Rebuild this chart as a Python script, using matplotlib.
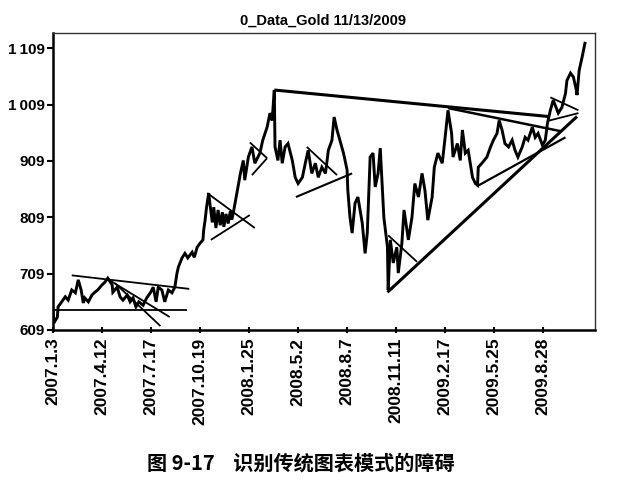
import matplotlib
matplotlib.use("Agg")
import matplotlib.pyplot as plt

# ---- data (trading-day index, price) ----
day_idx = [0, 1, 6, 7, 12, 17, 21, 26, 31, 35, 39, 42, 44, 49, 54, 58, 62, 68, 72, 76,
           82, 83, 89, 93, 97, 103, 107, 111, 115, 119, 125, 130, 135, 139, 143, 146, 151,
           155, 160, 165, 169, 172, 174, 179, 183, 187, 193, 196, 200, 204, 208,
           209, 211, 213, 216, 218, 221, 223, 226, 229, 232, 235, 237, 240, 243, 246, 248,
           250, 255, 260, 264, 266, 271, 276, 280, 287, 291, 297, 301, 304, 307, 308, 312, 315,
           318, 322, 326, 332, 336, 340, 346, 350, 354, 359, 364, 368, 373, 378, 382, 387, 390,
           394, 398, 403, 408, 409, 412, 415, 419, 423, 429, 433, 436, 440, 444, 447, 451, 454,
           457, 459, 464, 465, 468, 472, 477, 479, 484, 487, 491, 493, 498, 502, 507, 512, 516,
           520, 526, 529, 534, 540, 544, 548, 553, 555, 561, 565, 568, 572, 576, 582, 586, 589,
           590, 595, 602, 607, 611, 616, 619, 623, 627, 632, 637, 641, 645, 651, 655, 659, 665,
           669, 673, 679, 683, 686, 690, 694, 698, 701, 706, 711, 713, 718, 722, 726, 727, 730,
           734, 738]
price = [644, 621, 632, 650, 659, 668, 662, 680, 675, 698, 680, 657, 666, 659, 671, 676, 680,
         689, 694, 701, 689, 676, 685, 668, 662, 671, 659, 666, 650, 659, 653, 666, 675, 685,
         659, 685, 680, 659, 680, 675, 685, 710, 721, 737, 745, 737, 747, 738, 756, 763, 769,
         786, 804, 827, 852, 830, 800, 827, 790, 822, 795, 818, 792, 815,
         798, 820, 805, 816, 852, 887, 910, 875, 916, 934, 905, 923, 946, 969, 994, 981, 1035,
         934, 910, 946, 905, 934, 940, 910, 880, 869, 880, 905, 928, 887, 905, 880, 898, 887,
         928, 946, 987, 964, 946, 923, 893, 857, 809, 781, 834, 845, 799, 745, 781, 916, 923,
         863, 887, 932, 857, 809, 756, 680, 769, 728, 756, 710, 763, 822, 786, 769, 809, 869,
         845, 887, 857, 804, 845, 898, 923, 905, 951, 999, 958, 916, 940, 910, 964, 923, 928,
         880, 869, 866, 898, 905, 916, 934, 946, 958, 981, 964, 940, 934, 946, 928, 916, 934,
         951, 946, 969, 951, 958, 937, 946, 976, 999, 1017, 1004, 994, 1004, 1029, 1052, 1065,
         1058, 1035, 1026, 1070, 1093, 1118]

# trendlines: (start day, start price, end day, end price)
trend_lines = [
    (0, 644, 186, 644),
    (26, 706, 189, 682),
    (75, 700, 162, 632),
    (86, 692, 149, 616),
    (214, 852, 280, 790),
    (219, 769, 273, 813),
    (273, 942, 297, 914),
    (276, 884, 297, 914),
    (307, 1035, 687, 988),
    (352, 934, 394, 884),
    (337, 845, 415, 887),
    (465, 777, 505, 730),
    (464, 676, 727, 988),
    (548, 1003, 704, 962),
    (588, 864, 711, 951),
    (690, 1022, 729, 999),
    (686, 980, 729, 994),
]
trend_widths = [1.3, 1.3, 1.3, 1.3, 1.3, 1.3, 1.3, 1.3, 2.2, 1.3, 1.5, 1.3, 2.2, 1.8, 1.6, 1.3, 1.3]

tick_pos = [0, 68, 136, 204, 272, 340, 408, 476, 544, 612, 680]
tick_labels = ["2007.1.3", "2007.4.12", "2007.7.17", "2007.10.19", "2008.1.25", "2008.5.2",
               "2008.8.7", "2008.11.11", "2009.2.17", "2009.5.25", "2009.8.28"]
ytick_vals = [609, 709, 809, 909, 1009, 1109]
ytick_labels = ["609", "709", "809", "909", "1\u2009009", "1\u2009109"]

title = "0_Data_Gold 11/13/2009"
caption = "图 9-17    识别传统图表模式的障碍"

# ---- figure ----
fig = plt.figure(figsize=(6.29, 4.87), dpi=100)
ax = fig.add_axes([0.0843, 0.3224, 0.8617, 0.6096])

ax.plot(day_idx, price, color="black", lw=2.1, solid_joinstyle="miter")
for (x0, y0, x1, y1), w in zip(trend_lines, trend_widths):
    ax.plot([x0, x1], [y0, y1], color="black", lw=w, solid_capstyle="butt")

ax.set_xlim(0, 752)
ax.set_ylim(609, 1136)

lab_font = ["Liberation Sans Narrow", "Liberation Sans", "DejaVu Sans"]
ax.set_xticks(tick_pos)
ax.set_xticklabels(tick_labels, rotation=90, fontsize=12.5, fontweight="bold", family=lab_font)
ax.set_yticks(ytick_vals)
ax.set_yticklabels(ytick_labels, fontsize=11, fontweight="bold", family=lab_font)
ax.tick_params(axis="y", direction="out", length=4, width=1.5, pad=2)
ax.tick_params(axis="x", direction="inout", length=5, width=1.5, pad=3)

for s in ["left", "bottom"]:
    ax.spines[s].set_linewidth(1.8)
for s in ["top", "right"]:
    ax.spines[s].set_linewidth(1.0)
    ax.spines[s].set_linestyle((0, (3, 1)))
    ax.spines[s].set_color("#333333")

fig.text(0.514, 0.958, title, ha="center", va="center", fontsize=10.5, fontweight="bold",
         family=lab_font)
fig.text(0.479, 0.05, caption, ha="center", va="center", fontsize=14.5, fontweight="bold",
         family=["Noto Sans CJK SC", "DejaVu Sans"])

fig.savefig("out.png", dpi=100)
